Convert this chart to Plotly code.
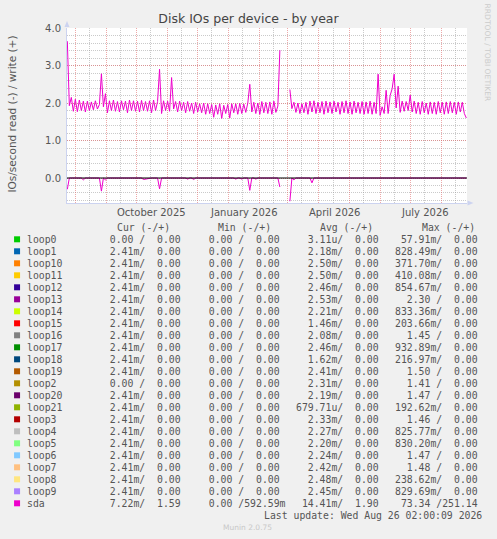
import pandas as pd
import plotly.graph_objects as go

# figure / plot-area geometry in pixels
W, H = 497, 539
L, R, T, B = 67, 467.5, 28, 203

# sda, sampled every 2 days from 2025-07-24
start = "2025-07-24"
sda_write = [
    3.65, 1.93, 2.15, 1.78, 2.10, 1.77, 2.08, 1.80, 2.05, 1.76,
    2.05, 1.80, 2.03, 1.82, 2.06, 1.84, 1.96, 2.78, 1.90, 2.25,
    1.74, 2.06, 1.80, 2.08, 1.78, 2.04, 1.76, 2.06, 1.82, 2.05,
    1.74, 2.08, 1.80, 2.06, 1.78, 2.05, 1.76, 2.07, 1.80, 2.04,
    1.78, 2.06, 1.74, 2.08, 1.80, 2.04, 2.90, 1.72, 2.06, 1.80,
    2.05, 1.78, 2.68, 1.84, 2.04, 1.76, 2.05, 1.80, 2.02, 1.74,
    2.04, 1.78, 2.00, 1.72, 2.02, 1.76, 1.98, 1.74, 2.00, 1.70,
    1.98, 1.72, 1.96, 1.62, 1.95, 1.70, 1.98, 1.59, 1.94, 1.72,
    1.96, 1.60, 1.98, 1.74, 1.98, 1.70, 1.99, 1.72, 1.97, 1.75,
    2.00, 2.50, 1.76, 2.02, 1.72, 2.00, 1.70, 2.04, 1.74, 2.02,
    1.72, 2.03, 1.70, 2.05, 1.75, 1.92, 3.41, None, None, None,
    None, 2.36, 1.85, 2.02, 1.75, 2.00, 1.72, 1.98, 1.74, 2.02,
    1.70, 2.05, 1.76, 2.06, 1.72, 2.02, 1.74, 2.04, 1.70, 2.05,
    1.74, 2.03, 1.72, 2.05, 1.76, 2.02, 1.70, 2.04, 1.74, 2.06,
    1.72, 2.03, 1.70, 2.05, 1.74, 2.02, 1.72, 2.04, 1.70, 2.03,
    1.72, 2.05, 1.70, 2.02, 1.72, 2.77, 1.67, 1.90, 1.72, 2.34,
    1.72, 2.20, 2.38, 2.77, 1.87, 2.45, 1.75, 2.05, 1.78, 2.04,
    1.80, 2.21, 1.76, 2.05, 1.72, 2.02, 1.70, 2.04, 1.74, 2.00,
    1.70, 2.03, 1.72, 2.02, 1.70, 2.04, 1.74, 2.02, 1.70, 2.03,
    1.72, 2.04, 1.74, 2.02, 1.70, 2.03, 1.76, 2.02, 1.72, 1.60,
]
sda_read = [
    0.30, 0, 0, 0, 0, 0, 0, 0, 0.05, 0,
    0, 0, 0, 0, 0, 0, 0, 0.35, 0, 0.05,
    0, 0, 0, 0, 0, 0, 0, 0, 0, 0,
    0, 0.02, 0, 0, 0, 0, 0, 0, 0.04, 0.03,
    0, 0, 0, 0, 0, 0, 0.29, 0, 0, 0,
    0, 0, 0, 0, 0, 0, 0, 0, 0, 0,
    0.03, 0, 0, 0.04, 0, 0, 0, 0, 0, 0,
    0, 0, 0, 0, 0, 0, 0, 0, 0, 0,
    0, 0, 0, 0, 0.03, 0, 0, 0.03, 0, 0,
    0, 0.33, 0, 0, 0.03, 0, 0, 0, 0, 0,
    0, 0, 0, 0, 0, 0, 0.24, None, None, None,
    None, 0.62, 0, 0.05, 0, 0, 0, 0, 0, 0,
    0, 0, 0.13, 0, 0, 0, 0, 0, 0, 0,
    0, 0, 0, 0, 0, 0, 0, 0, 0, 0,
    0, 0, 0, 0, 0, 0, 0, 0, 0, 0,
    0, 0, 0, 0, 0, 0, 0, 0, 0, 0,
    0, 0, 0, 0, 0, 0, 0, 0, 0, 0,
    0, 0.02, 0, 0, 0, 0, 0, 0, 0, 0,
    0, 0, 0, 0, 0, 0, 0, 0, 0, 0,
    0, 0, 0, 0, 0, 0, 0, 0, 0, 0,
]

# legend table
devices = ["loop0", "loop1", "loop10", "loop11", "loop12", "loop13", "loop14",
           "loop15", "loop16", "loop17", "loop18", "loop19", "loop2", "loop20",
           "loop21", "loop3", "loop4", "loop5", "loop6", "loop7", "loop8",
           "loop9", "sda"]
colors = ["#00CC00", "#0066B3", "#FF8000", "#FFCC00", "#330099", "#990099",
          "#CCFF00", "#FF0000", "#808080", "#008F00", "#00487D", "#B35A00",
          "#B38F00", "#6B006B", "#8FB300", "#B30000", "#BEBEBE", "#80FF80",
          "#80C9FF", "#FFC080", "#FFE680", "#AA80FF", "#EE00CC"]
cur_read = ["0.00"] + ["2.41m"] * 11 + ["0.00"] + ["2.41m"] * 9 + ["7.22m"]
cur_write = ["0.00"] * 22 + ["1.59"]
min_read = ["0.00"] * 23
min_write = ["0.00"] * 22 + ["592.59m"]
avg_read = ["3.11u", "2.18m", "2.50m", "2.50m", "2.46m", "2.53m", "2.21m",
            "1.46m", "2.08m", "2.46m", "1.62m", "2.41m", "2.31m", "2.19m",
            "679.71u", "2.33m", "2.27m", "2.20m", "2.24m", "2.42m", "2.48m",
            "2.45m", "14.41m"]
avg_write = ["0.00"] * 22 + ["1.90"]
max_read = ["57.91m", "828.49m", "371.70m", "410.08m", "854.67m", "2.30",
            "833.36m", "203.66m", "1.45", "932.89m", "216.97m", "1.50", "1.41",
            "1.47", "192.62m", "1.46", "825.77m", "830.20m", "1.47", "1.48",
            "238.62m", "829.69m", "73.34"]
max_write = ["0.00"] * 22 + ["251.14"]

month_labels = ["October 2025", "January 2026", "April 2026", "July 2026"]
month_label_dates = ["2025-10-16", "2026-01-16", "2026-04-16", "2026-07-16"]


def px(x):
    return (x - L) / (R - L)


def py(y):
    return (B - y) / (B - T)


def fmt(v):
    if v[-1] in "mu":
        return f"{v[:-1]:>6}{v[-1]}"
    return f"{v:>6} "


def mono(s):
    return s.replace(" ", "\u00a0")


dates = pd.date_range(start, periods=len(sda_write), freq="2D")
month_starts = pd.date_range("2025-08-01", "2026-08-01", freq="MS")
mid_months = pd.date_range("2025-07-16", "2026-08-16", freq="SMS")
mid_months = [d for d in mid_months if d.day != 1]

fig = go.Figure()
fig.add_trace(go.Scatter(x=dates, y=sda_write, mode="lines",
                         line=dict(color="#EE00CC", width=1),
                         connectgaps=False, showlegend=False))
fig.add_trace(go.Scatter(x=dates, y=[None if v is None else -v for v in sda_read],
                         mode="lines", line=dict(color="#EE00CC", width=1),
                         connectgaps=False, showlegend=False))

major = "rgba(225,110,110,0.6)"
minor = "rgba(150,150,150,0.5)"
axisc = "#CCD3F0"

fig.update_layout(
    width=W, height=H,
    margin=dict(l=L, r=W - R, t=T, b=H - B, pad=0),
    paper_bgcolor="#F0F0F0", plot_bgcolor="#FFFFFF",
    font=dict(family="DejaVu Sans", size=10, color="#555555"),
    title=dict(text="Disk IOs per device - by year", x=0.5, xref="container",
               xanchor="center", y=1 - 19 / H, yanchor="middle",
               font=dict(size=12.5, color="#444444")),
    showlegend=False,
    xaxis=dict(
        type="date", range=["2025-07-23 16:00", "2026-08-26 16:00"],
        tickvals=list(month_starts), showticklabels=False, ticks="",
        showgrid=True, gridcolor=major, griddash="1px,1px", gridwidth=1,
        minor=dict(tickvals=mid_months, showgrid=True, gridcolor=minor,
                   griddash="1px,1px", gridwidth=1, ticks=""),
        showline=True, linecolor=axisc, linewidth=1, zeroline=False,
        fixedrange=True,
    ),
    yaxis=dict(
        range=[-0.667, 4.002], tickvals=[0, 1, 2, 3, 4], tickformat=".1f", ticks="",
        showgrid=True, gridcolor=major, griddash="1px,1px", gridwidth=1,
        minor=dict(dtick=0.2, tick0=0, showgrid=True, gridcolor=minor,
                   griddash="1px,1px", gridwidth=1, ticks=""),
        showline=True, linecolor=axisc, linewidth=1, zeroline=False,
        ticklabelstandoff=3, tickfont=dict(size=10, color="#555555"),
        fixedrange=True,
    ),
)

shapes = [
    # black zero rule drawn over the data
    dict(type="line", xref="paper", yref="y", x0=0, x1=1, y0=0, y1=0,
         line=dict(color="#000000", width=1), layer="above"),
    # axis arrows
    dict(type="path", xref="paper", yref="paper", fillcolor=axisc, line=dict(width=0),
         path=f"M {px(64.5)} {py(27)} L {px(69.5)} {py(27)} L {px(67)} {py(21)} Z"),
    dict(type="path", xref="paper", yref="paper", fillcolor=axisc, line=dict(width=0),
         path=f"M {px(468)} {py(200.5)} L {px(468)} {py(205.5)} L {px(474)} {py(203)} Z"),
]

annotations = [
    dict(text="IOs/second read (-) / write (+)", textangle=-90,
         x=px(11.5), y=py(114), font=dict(size=10.5, color="#555555")),
    dict(text="RRDTOOL / TOBI OETIKER", textangle=90,
         x=px(489), y=py(53), font=dict(size=7.6, color="#CCCCCC")),
]
for d, t in zip(month_label_dates, month_labels):
    annotations.append(dict(text=t, xref="x", x=d, y=py(212.5),
                            font=dict(size=10, color="#555555")))

tfont = dict(family="DejaVu Sans Mono", size=9.8, color="#555555")
col_x = [98.2, 197.2, 296.7, 395.7]
headers = [("Cur (-/+)", 116.7), ("Min (-/+)", 218.3),
           ("Avg (-/+)", 320.7), ("Max (-/+)", 422.7)]
for h, hx in headers:
    annotations.append(dict(text=mono(h), x=px(hx), y=py(227.7),
                            xanchor="left", font=tfont))

row0, step = 239.3, 12
for i, name in enumerate(devices):
    yc = row0 + step * i
    shapes.append(dict(type="rect", xref="paper", yref="paper",
                       x0=px(14), x1=px(20), y0=py(yc - 3), y1=py(yc + 3),
                       fillcolor=colors[i], line=dict(width=0)))
    annotations.append(dict(text=name, x=px(26.5), y=py(yc),
                            xanchor="left", font=tfont))
    cells = [(cur_read[i], cur_write[i]), (min_read[i], min_write[i]),
             (avg_read[i], avg_write[i]), (max_read[i], max_write[i])]
    for cx, (rv, wv) in zip(col_x, cells):
        annotations.append(dict(text=mono(fmt(rv) + "/" + fmt(wv)),
                                x=px(cx), y=py(yc), xanchor="left", font=tfont))

annotations.append(dict(text=mono("Last update: Wed Aug 26 02:00:09 2026"),
                        x=px(483), y=py(515.7), xanchor="right", font=tfont))
annotations.append(dict(text="Munin 2.0.75", x=px(248), y=py(527.7),
                        font=dict(size=7.5, color="#C8C8C8")))

for a in annotations:
    a.setdefault("xref", "paper")
    a.setdefault("yref", "paper")
    a.setdefault("xanchor", "center")
    a.setdefault("yanchor", "middle")
    a.update(showarrow=False, borderpad=0, borderwidth=0)

fig.update_layout(shapes=shapes, annotations=annotations)

# drop the page's default body margin so the figure fills the window
fig.write_html("out.html",
               config={"displayModeBar": False},
               post_script="document.body.style.margin='0';"
                           "document.body.style.background='#F0F0F0';")
